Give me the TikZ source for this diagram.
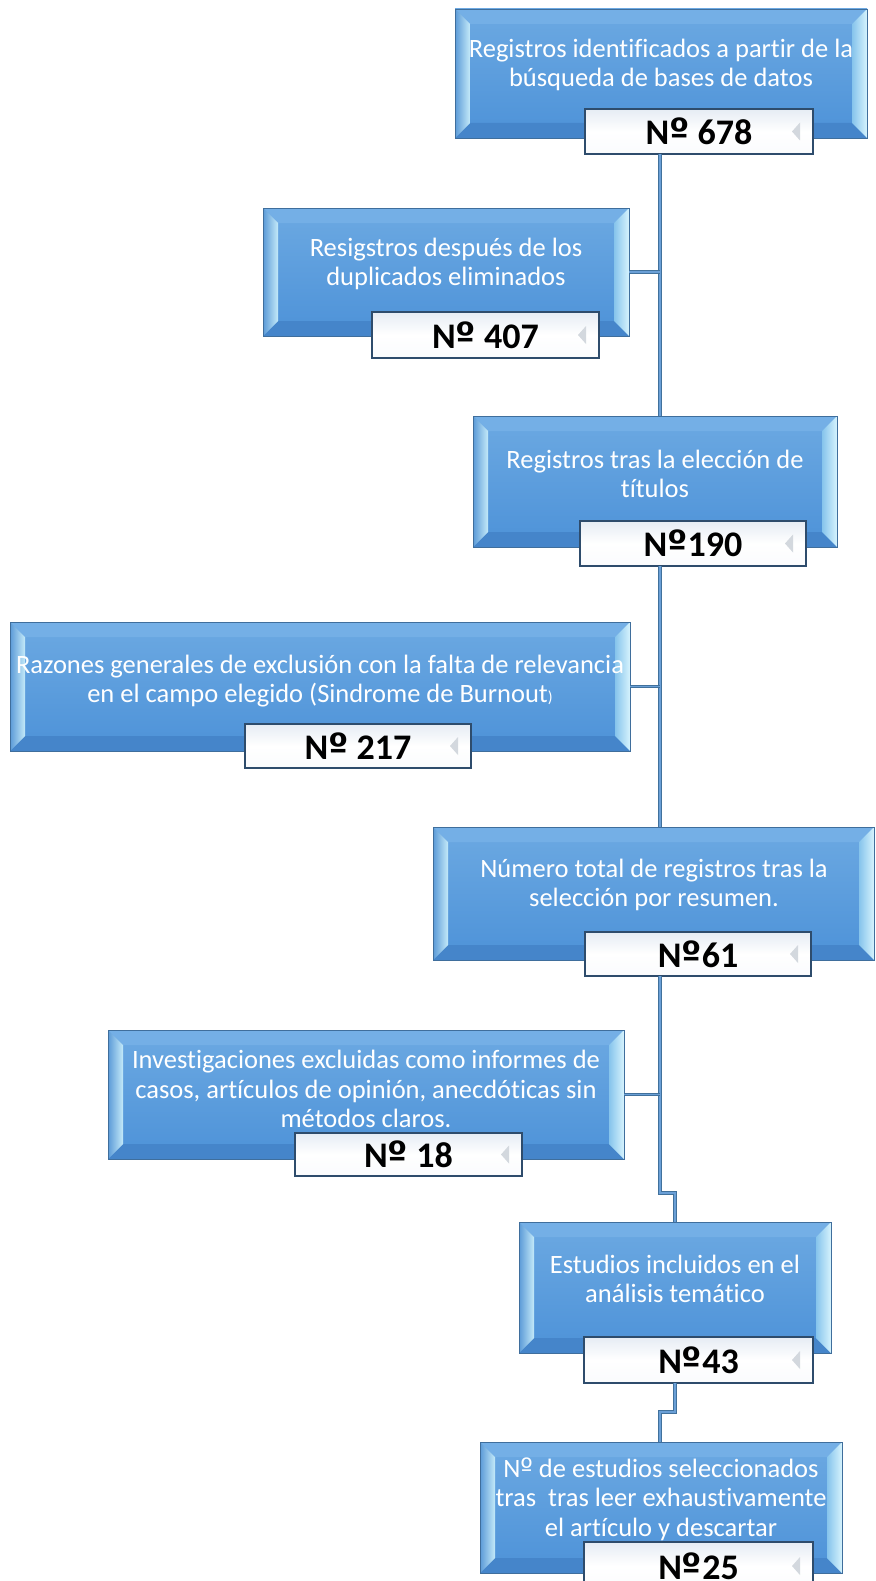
\documentclass[tikz,border=0pt]{standalone}
\usepackage{fontspec}
\setmainfont[Ligatures=NoCommon]{Carlito}
\newfontfamily\ordfont{DejaVu Sans}
\newcommand{\nro}{N{\ordfont º}}
\usetikzlibrary{calc}
\definecolor{facetop}{HTML}{6CA9E2}
\definecolor{facebot}{HTML}{4D92D8}
\definecolor{boxedge}{HTML}{3F6E9C}
\definecolor{bevtop}{HTML}{74AFE6}
\definecolor{bevbot}{HTML}{4585CA}
\definecolor{bevlo}{HTML}{5B9AD7}
\definecolor{bevli}{HTML}{C4EAF9}
\definecolor{bevro}{HTML}{D6F3FD}
\definecolor{bevri}{HTML}{86C4EC}
\definecolor{nbedge}{HTML}{2E4C6C}
\definecolor{nbtop}{HTML}{E6ECF4}
\definecolor{nbbot}{HTML}{FAFBFD}
\definecolor{nbtri}{HTML}{D3D8DE}
\definecolor{conndark}{HTML}{41719C}
\definecolor{connlight}{HTML}{6A9FD6}
\begin{document}
\begin{tikzpicture}[x=1pt,y=-1pt,
  mainbox/.style={draw=boxedge, line width=0.9pt, inner sep=0pt, outer sep=0pt,
    top color=facetop, bottom color=facebot,
    path picture={
      \path let \p1=(path picture bounding box.north west),
                \p2=(path picture bounding box.south east) in
        [fill=bevtop] (\x1,\y1) -- (\x2,\y1) -- (\x2-15pt,\y1-15pt) -- (\x1+15pt,\y1-15pt) -- cycle;
      \path let \p1=(path picture bounding box.north west),
                \p2=(path picture bounding box.south east) in
        [fill=bevbot] (\x1,\y2) -- (\x2,\y2) -- (\x2-15pt,\y2+15pt) -- (\x1+15pt,\y2+15pt) -- cycle;
      \path let \p1=(path picture bounding box.north west),
                \p2=(path picture bounding box.south east) in
        [left color=bevlo, right color=bevli] (\x1,\y1) -- (\x1+15pt,\y1-15pt) -- (\x1+15pt,\y2+15pt) -- (\x1,\y2) -- cycle;
      \path let \p1=(path picture bounding box.north west),
                \p2=(path picture bounding box.south east) in
        [left color=bevri, right color=bevro] (\x2,\y1) -- (\x2-15pt,\y1-15pt) -- (\x2-15pt,\y2+15pt) -- (\x2,\y2) -- cycle;
    }},
  numbox/.style={draw=nbedge, line width=1.4pt, inner sep=0pt, outer sep=0pt,
    top color=nbtop, bottom color=nbbot, middle color=white,
    font=\fontsize{36}{38}\selectfont\bfseries, text=black,
    path picture={
      \path let \p1=(path picture bounding box.north west),
                \p2=(path picture bounding box.south east) in
        [fill=nbtri] (\x2-13pt,{(\y1+\y2)/2+9pt}) -- (\x2-13pt,{(\y1+\y2)/2-9pt}) -- (\x2-21pt,{(\y1+\y2)/2}) -- cycle;
    }},
  boxtext/.style={text=white, align=center, inner sep=0pt,
    font=\fontsize{26.5}{29.5}\selectfont},
  conn/.style={draw=conndark, line width=0.9pt, double=connlight, double distance=1.4pt}
]
\useasboundingbox (0,0) rectangle (875,1581);
\clip (0,0) rectangle (875,1581);

% main boxes
\node[mainbox, minimum width=412, minimum height=129] (b1) at (661,73.5) {};
\node[mainbox, minimum width=366, minimum height=128] (b2) at (446,272) {};
\node[mainbox, minimum width=364, minimum height=131] (b3) at (655,481.5) {};
\node[mainbox, minimum width=620, minimum height=129] (b4) at (320,686.5) {};
\node[mainbox, minimum width=441, minimum height=133] (b5) at (653.5,893.5) {};
\node[mainbox, minimum width=516, minimum height=129] (b6) at (366,1094.5) {};
\node[mainbox, minimum width=312, minimum height=131] (b7) at (675,1287.5) {};
\node[mainbox, minimum width=362, minimum height=131] (b8) at (661,1507.5) {};

% texts
\node[boxtext] (t1) at (661,65) {Registros identificados a partir de la\\búsqueda de bases de datos};
\node[boxtext] (t2) at (446,264) {Resigstros después de los\\duplicados eliminados};
\node[boxtext] (t3) at (655,474) {Registros tras la elección de\\títulos};
\node[boxtext] (t4) at (320,681) {Razones generales de exclusión con la falta de relevancia\\en el campo elegido (Sindrome de Burnout{\fontsize{16}{16}\selectfont )}};
\node[boxtext] (t5) at (654,885) {Número total de registros tras la\\selección por resumen.};
\node[boxtext] (t6) at (366,1089) {Investigaciones excluidas como informes de\\casos, artículos de opinión, anecdóticas sin\\métodos claros.};
\node[boxtext] (t7) at (675,1279) {Estudios incluidos en el\\análisis temático};
\node[boxtext] (t8) at (661,1499) {\nro{} de estudios seleccionados\\tras\ \ tras leer exhaustivamente\\el artículo y descartar};

% number boxes
\node[numbox, minimum width=228, minimum height=45] (n1) at (699,131.5) {\nro{} 678};
\node[numbox, minimum width=227, minimum height=46] (n2) at (485.5,335) {\nro{} 407};
\node[numbox, minimum width=226, minimum height=45] (n3) at (693,543.5) {\nro190};
\node[numbox, minimum width=226, minimum height=44] (n4) at (358,746) {\nro{} 217};
\node[numbox, minimum width=226, minimum height=44] (n5) at (698,954) {\nro61};
\node[numbox, minimum width=227, minimum height=43] (n6) at (408.5,1154.5) {\nro{} 18};
\node[numbox, minimum width=229, minimum height=46] (n7) at (698.5,1360) {\nro43};
\node[numbox, minimum width=229, minimum height=48] (n8) at (698.5,1566) {\nro25};

% junctions
\coordinate (j1) at (660,272);
\coordinate (j2) at (660,686.5);
\coordinate (j3) at (660,1094.5);
\coordinate (k1) at (660,1193);
\coordinate (k2) at (675,1193);
\coordinate (k3) at (675,1412);
\coordinate (k4) at (660,1412);

% connectors
\draw[conn] (n1.south -| j1) -- (b3.north -| j1);
\draw[conn] (b2.east) -- (j1);
\draw[conn] (n3.south -| j2) -- (b5.north -| j2);
\draw[conn] (b4.east) -- (j2);
\draw[conn] (n5.south -| j3) -- (k1) -- (k2) -- (b7.north -| k2);
\draw[conn] (b6.east) -- (j3);
\draw[conn] (n7.south -| k3) -- (k3) -- (k4) -- (b8.north -| k4);
\end{tikzpicture}
\end{document}
